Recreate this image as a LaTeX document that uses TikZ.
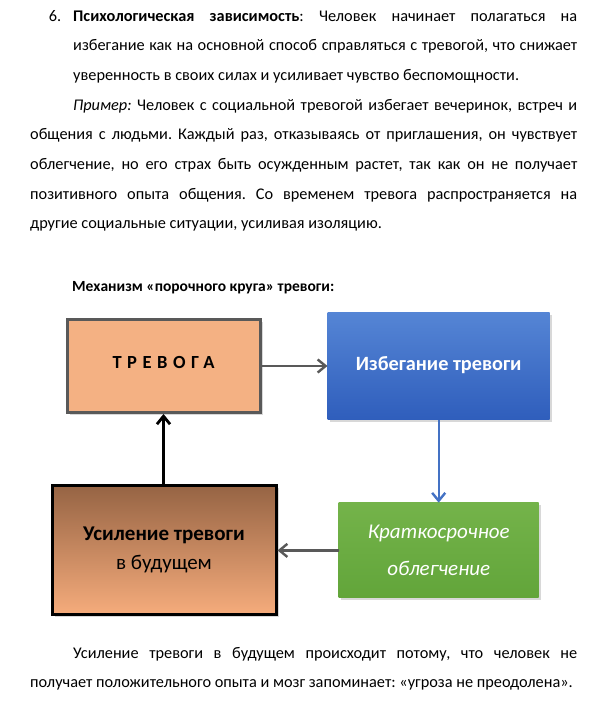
\documentclass[tikz,border=0pt]{standalone}
\usepackage{fontspec}
\setmainfont{Carlito}
\newfontfamily\spacedfont[LetterSpace=30]{Carlito}
\usepackage{tikz}
\usetikzlibrary{arrows.meta,positioning,shadows}
\definecolor{boxorange}{HTML}{F4B183}
\definecolor{boxgray}{HTML}{595959}
\definecolor{bluetop}{HTML}{5585D5}
\definecolor{bluebot}{HTML}{2F5EBC}
\definecolor{greentop}{HTML}{74B34A}
\definecolor{greenbot}{HTML}{62A53A}
\definecolor{browntop}{HTML}{966444}
\definecolor{brownbot}{HTML}{F6AC7C}
\definecolor{arrblue}{HTML}{4472C4}
\hyphenpenalty=10000
\frenchspacing

\begin{document}
\begin{tikzpicture}[x=1pt,y=-1pt,
  para/.style={anchor=base west,inner sep=0pt,align=justify,
    font=\fontsize{16.3}{29.7}\selectfont},
  box/.style={align=center,inner sep=0pt,
    drop shadow={shadow xshift=2.5pt,shadow yshift=-2.5pt,opacity=.3}},
  garr/.style={-{Straight Barb[length=2.8mm,width=4.6mm]},line width=2.4pt,draw=boxgray},
  barr/.style={-{Straight Barb[length=2.8mm,width=4.6mm]},line width=2.4pt,draw=arrblue},
  karr/.style={-{Straight Barb[length=2.8mm,width=4.6mm]},line width=2.8pt,draw=black}]
\useasboundingbox[fill=white] (0,0) rectangle (597,707);
% text above the diagram
\node[para,text width=504pt] (p1) at (73,21)
  {\leavevmode\llap{6.\hspace{12pt}}\textbf{Психологическая зависимость}: Человек начинает полагаться на\linebreak
   избегание как на основной способ справляться с тревогой, что снижает\linebreak
   уверенность в своих силах и усиливает чувство беспомощности.};
\node[para,text width=547pt] (p2) at (30,110)
  {\hspace*{43pt}\textit{Пример:} Человек с социальной тревогой избегает вечеринок, встреч и\linebreak
   общения с людьми. Каждый раз, отказываясь от приглашения, он чувствует\linebreak
   облегчение, но его страх быть осужденным растет, так как он не получает\linebreak
   позитивного опыта общения. Со временем тревога распространяется на\linebreak
   другие социальные ситуации, усиливая изоляцию.};
\node[anchor=base west,inner sep=0pt,font=\fontsize{15.5}{18}\selectfont\bfseries] (title) at (72,291)
  {Механизм «порочного круга» тревоги:};
% the cycle
\node[box,minimum width=193pt,minimum height=93pt,fill=boxorange,draw=boxgray,line width=3pt,
      font=\fontsize{18.5}{20}\spacedfont\bfseries] (anx) at (163.5,366) {\raisebox{7pt}{ТРЕВОГА}};
\node[box,minimum width=222pt,minimum height=107pt,top color=bluetop,bottom color=bluebot,
      text=white,font=\fontsize{20.3}{24}\selectfont\bfseries,right=66pt of anx] (avoid) {\raisebox{4pt}{Избегание тревоги}};
\node[box,minimum width=200pt,minimum height=95pt,top color=greentop,bottom color=greenbot,
      text=white,font=\fontsize{21}{37}\selectfont\itshape,below=83pt of avoid] (relief) {Краткосрочное\\облегчение};
\node[box,minimum width=224pt,minimum height=129pt,top color=browntop,bottom color=brownbot,
      draw=black,line width=3pt,font=\fontsize{21}{29}\selectfont,left=61pt of relief] (future)
      {\textbf{Усиление тревоги}\\в будущем};
\draw[garr] (anx) -- (avoid);
\draw[barr] (avoid) -- (relief);
\draw[garr] (relief) -- (future);
\draw[karr] (future.north -| anx.south) -- (anx.south);
% text below the diagram
\node[para,text width=547pt] (p3) at (30,658)
  {\hspace*{43pt}Усиление тревоги в будущем происходит потому, что человек не\linebreak
   получает положительного опыта и мозг запоминает: «угроза не преодолена».};
\end{tikzpicture}
\end{document}
